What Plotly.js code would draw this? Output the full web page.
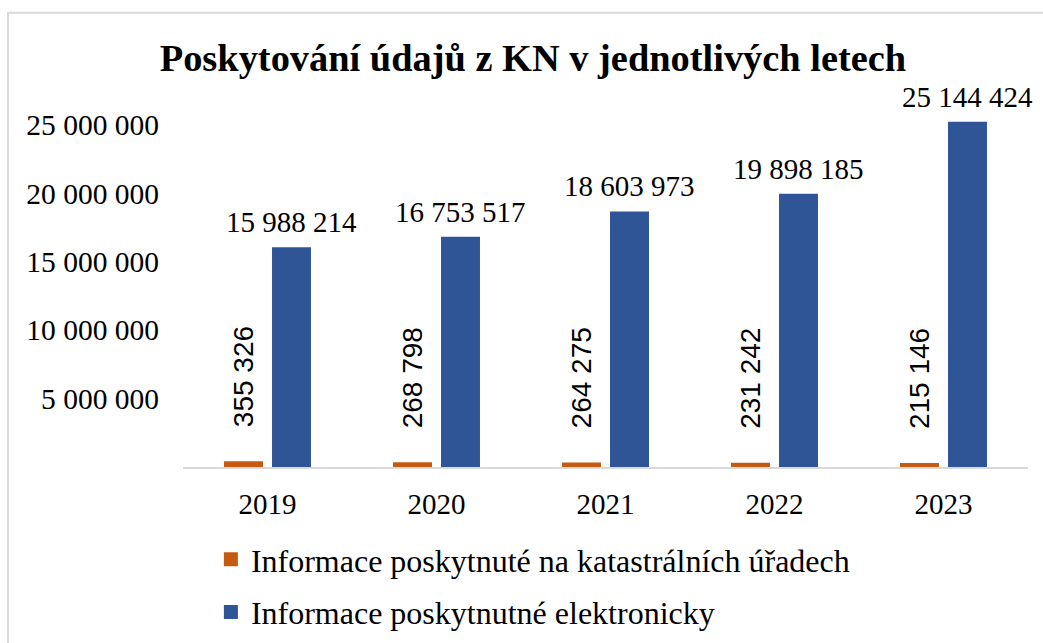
<!DOCTYPE html>
<html>
<head>
<meta charset="utf-8">
<script src="https://cdn.plot.ly/plotly-3.0.1.min.js"></script>
<style>html,body{margin:0;padding:0;background:#fff;overflow:hidden}</style>
</head>
<body>
<div id="chart" style="width:1043px;height:643px"></div>
<script>
const titleText = "Poskytování údajů z KN v jednotlivých letech";
const years = ["2019", "2020", "2021", "2022", "2023"];
const officeName = "Informace poskytnuté na katastrálních úřadech";
const officeValues = [355326, 268798, 264275, 231242, 215146];
const onlineName = "Informace poskytnutné elektronicky";
const onlineValues = [15988214, 16753517, 18603973, 19898185, 25144424];
const yTicks = [5000000, 10000000, 15000000, 20000000, 25000000];

const orange = "#C55A11";
const blue = "#2F5597";
const serif = "Liberation Serif";
const sans = "Liberation Sans";

function fmt(v) { return String(v).replace(/\B(?=(\d{3})+(?!\d))/g, " "); }

const traces = [
  { type: "bar", name: officeName, x: years, y: officeValues,
    marker: { color: orange, line: { color: orange, width: 2 } },
    legendgroup: "a", hoverinfo: "skip" },
  { type: "bar", name: onlineName, x: years, y: onlineValues,
    marker: { color: blue, line: { color: blue, width: 2 } },
    legendgroup: "b", hoverinfo: "skip" }
];

const annotations = [];
years.forEach((yr, i) => {
  annotations.push({ x: i, y: officeValues[i], xref: "x", yref: "y", text: fmt(officeValues[i]),
    showarrow: false, textangle: -90, xshift: -24, yshift: 33, yanchor: "bottom", xanchor: "center",
    font: { family: sans, size: 28, color: "#000" } });
  annotations.push({ x: i, y: onlineValues[i], xref: "x", yref: "y", text: fmt(onlineValues[i]),
    showarrow: false, xshift: 24, yshift: 8, yanchor: "bottom", xanchor: "center",
    font: { family: serif, size: 29, color: "#000" } });
});

const layout = {
  width: 1043, height: 643,
  margin: { l: 183, r: 15, t: 117.5, b: 175.5, autoexpand: false },
  paper_bgcolor: "#fff", plot_bgcolor: "#fff",
  separators: ", ",
  title: { text: "<b>" + titleText + "</b>", x: 0.511, xref: "container", xanchor: "center",
    y: 0.911, yref: "container", yanchor: "middle",
    font: { family: serif, size: 38.4, color: "#000" } },
  barmode: "group", bargap: 0.432, bargroupgap: 0.23,
  xaxis: { type: "category", range: [-0.5, 4.5], autorange: false, showline: true,
    linecolor: "#d9d9d9", linewidth: 2, ticks: "", automargin: false,
    showgrid: false, zeroline: false, ticklabelstandoff: 10,
    tickfont: { family: serif, size: 29, color: "#000" } },
  yaxis: { range: [0, 25500000], autorange: false, tickvals: yTicks, ticktext: yTicks.map(fmt),
    showgrid: false, zeroline: false, showline: false, ticks: "", ticklabelstandoff: 23,
    automargin: false, tickfont: { family: serif, size: 29.5, color: "#000" } },
  showlegend: true,
  legend: { orientation: "v", x: 0.033, xanchor: "left", y: 0.1726, yref: "container", yanchor: "top",
    tracegroupgap: 8, traceorder: "grouped",
    font: { family: serif, size: 32, color: "#000" }, bgcolor: "rgba(0,0,0,0)" },
  annotations: annotations,
  shapes: [{ type: "rect", xref: "paper", yref: "paper", x0: -0.2071, x1: 1.05, y0: -0.7, y1: 1.3014,
    line: { color: "#d9d9d9", width: 2 }, fillcolor: "rgba(0,0,0,0)", layer: "below" }]
};

Plotly.newPlot("chart", traces, layout, { staticPlot: true, displayModeBar: false });
</script>
</body>
</html>
